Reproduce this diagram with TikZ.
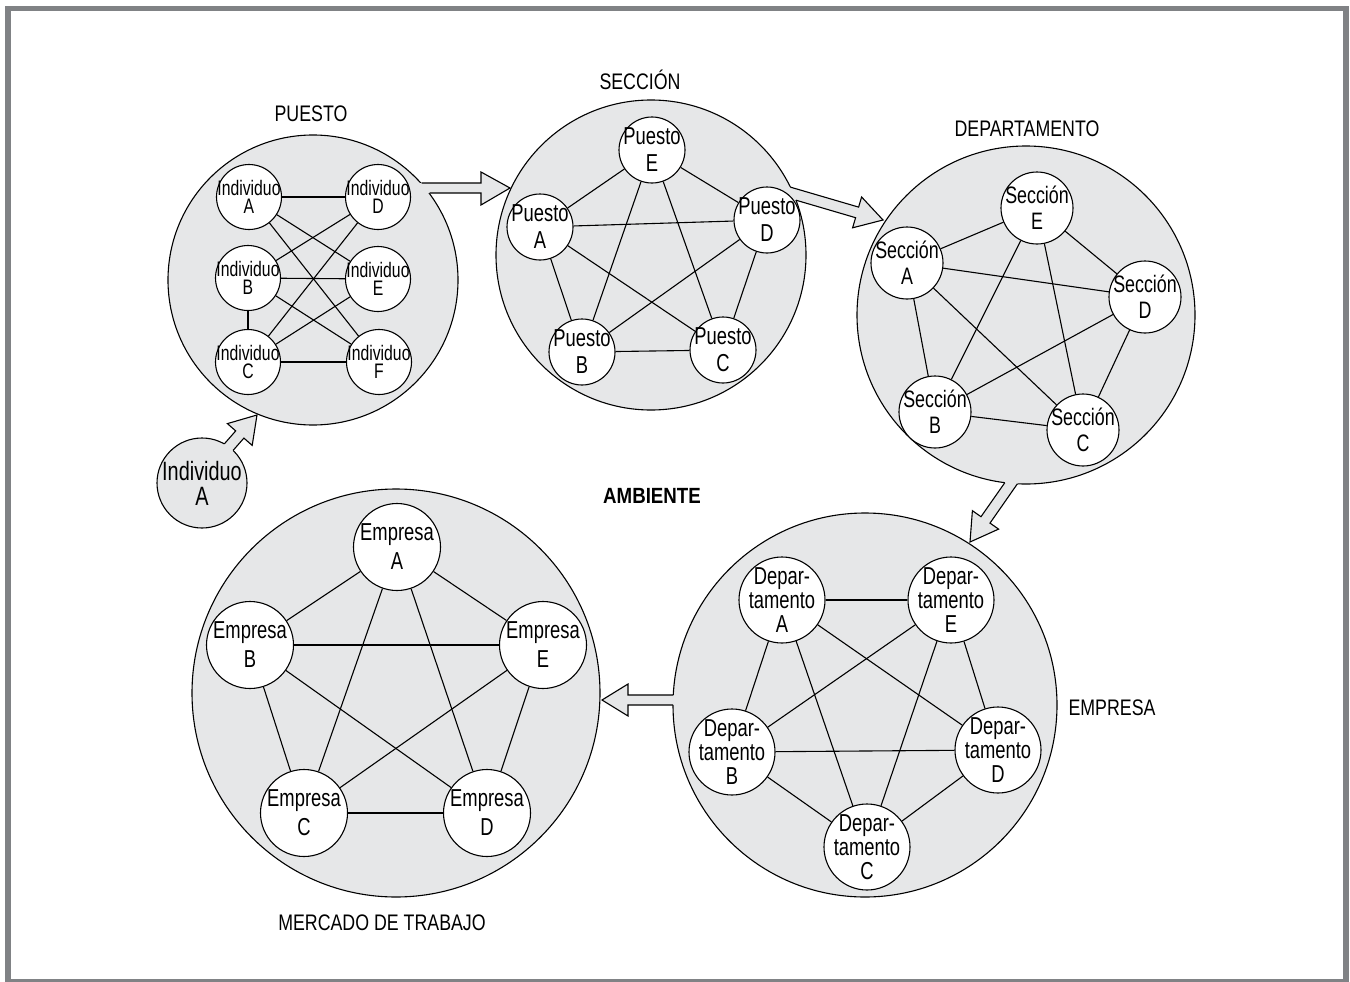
\documentclass[tikz,border=0pt]{standalone}
\usepackage{fontspec}
\setmainfont{Liberation Sans}[FakeStretch=0.75]
\newfontfamily\ambfont{Liberation Sans}[FakeStretch=0.85]
\newfontfamily\lblfont{Liberation Sans}[FakeStretch=0.79]
\definecolor{fillg}{HTML}{E6E7E8}
\definecolor{frameg}{HTML}{808285}
\tikzset{
 big/.style={circle, draw=black, fill=fillg, line width=1.1pt, inner sep=0pt},
 unit/.style={circle, draw=black, fill=white, line width=1.1pt, inner sep=-14pt, align=center},
 ind/.style={unit, minimum size=65pt, font=\fontsize{21}{18.5}\selectfont},
 pue/.style={unit, minimum size=66pt, font=\fontsize{24.5}{27}\selectfont},
 sec/.style={unit, minimum size=72pt, font=\fontsize{23.8}{26}\selectfont},
 dep/.style={unit, minimum size=86pt, font=\fontsize{24.5}{24}\selectfont},
 emp/.style={unit, minimum size=87pt, font=\fontsize{24.5}{29}\selectfont},
 link/.style={line width=1.1pt},
 blockline/.style={draw=black, line width=1.1pt, line join=miter},
 ttl/.style={font=\lblfont\fontsize{22.5}{24}\selectfont, inner sep=0pt, anchor=base},
}
\begin{document}
\begin{tikzpicture}[x=1pt,y=-1pt]
\useasboundingbox (0,0) rectangle (1350,982);
\draw[frameg, line width=5.5pt] (8,8.5) rectangle (1346,981.5);

% big circles
\node[big, minimum size=290pt] (P) at (313,280) {};
\node[big, minimum size=310pt] (S) at (651,255) {};
\node[big, minimum size=338pt] (D) at (1026,315) {};
\node[big, minimum size=384pt] (E) at (865,705) {};
\node[big, minimum size=408pt] (M) at (396,693) {};
\node[big, minimum size=90pt, align=center, inner sep=-14pt, font=\fontsize{26.5}{25}\selectfont] (indA) at (202,483) {Individuo\\A};

% block arrows
% Individuo A -> Puesto
\fill[fillg] (229.1,454.9) -- (233.1,450.4) -- (243.9,438.1) -- (252.2,445.4) -- (257,415) -- (227.4,423.6) -- (235.7,430.9) -- (224.3,443.9) -- (220.3,448.4) -- cycle;
\draw[blockline] (233.1,450.4) -- (243.9,438.1) -- (252.2,445.4) -- (257,415) -- (227.4,423.6) -- (235.7,430.9) -- (224.3,443.9);
% Puesto -> Seccion
\fill[fillg] (414,183) -- (481,183) -- (481,172) -- (510,188) -- (481,205) -- (481,193) -- (422,193) -- cycle;
\draw[blockline] (421.5,183) -- (481,183) -- (481,172) -- (510,188) -- (481,205) -- (481,193) -- (429.5,193);
% Seccion -> Departamento
\fill[fillg] (784.5,185.4) -- (858.6,207.1) -- (861.6,197.0) -- (883,220) -- (852.6,227.8) -- (855.6,217.7) -- (790.2,198.5) -- cycle;
\draw[blockline] (790.3,187.1) -- (858.6,207.1) -- (861.6,197.0) -- (883,220) -- (852.6,227.8) -- (855.6,217.7) -- (796.0,200.2);
% Departamento -> Empresa
\fill[fillg] (1008.2,477.8) -- (981.0,516.7) -- (972.4,510.7) -- (970,542) -- (998.6,529.1) -- (990.0,523.1) -- (1020.8,478.9) -- cycle;
\draw[blockline] (1004.8,482.7) -- (981.0,516.7) -- (972.4,510.7) -- (970,542) -- (998.6,529.1) -- (990.0,523.1) -- (1017.4,483.8);
% Empresa -> Mercado
\fill[fillg] (680,695) -- (628,695) -- (628,684) -- (602,700) -- (628,716) -- (628,705) -- (680,705) -- cycle;
\draw[blockline] (673.3,695) -- (628,695) -- (628,684) -- (602,700) -- (628,716) -- (628,705) -- (673,705);

% PUESTO cluster
\node[ind] (iA) at (249,197) {Individuo\\A};
\node[ind] (iD) at (378,197) {Individuo\\D};
\node[ind] (iB) at (248,278) {Individuo\\B};
\node[ind] (iE) at (378,279) {Individuo\\E};
\node[ind] (iC) at (248,362) {Individuo\\C};
\node[ind] (iF) at (379,362) {Individuo\\F};
\foreach \a/\b in {iA/iD,iA/iE,iA/iF,iB/iD,iB/iE,iB/iF,iC/iD,iC/iE,iC/iF,iB/iC}
  \draw[link] (\a) -- (\b);

% SECCION cluster
\node[pue] (sE) at (652,150) {Puesto\\E};
\node[pue] (sA) at (540,227) {Puesto\\A};
\node[pue] (sD) at (767,220) {Puesto\\D};
\node[pue] (sB) at (582,352) {Puesto\\B};
\node[pue] (sC) at (723,350) {Puesto\\C};
\foreach \a/\b in {sE/sA,sE/sD,sE/sB,sE/sC,sA/sD,sA/sB,sA/sC,sD/sB,sD/sC,sB/sC}
  \draw[link] (\a) -- (\b);

% DEPARTAMENTO cluster
\node[sec] (dE) at (1037,208) {Sección\\E};
\node[sec] (dA) at (907,263) {Sección\\A};
\node[sec] (dD) at (1145,297) {Sección\\D};
\node[sec] (dB) at (935,412) {Sección\\B};
\node[sec] (dC) at (1083,430) {Sección\\C};
\foreach \a/\b in {dE/dA,dE/dD,dE/dB,dE/dC,dA/dD,dA/dB,dA/dC,dD/dB,dD/dC,dB/dC}
  \draw[link] (\a) -- (\b);

% EMPRESA cluster
\node[dep] (eA) at (782,600) {Depar-\\tamento\\A};
\node[dep] (eE) at (951,600) {Depar-\\tamento\\E};
\node[dep] (eB) at (732,752) {Depar-\\tamento\\B};
\node[dep] (eD) at (998,750) {Depar-\\tamento\\D};
\node[dep] (eC) at (867,847) {Depar-\\tamento\\C};
\foreach \a/\b in {eA/eE,eA/eB,eA/eC,eA/eD,eE/eB,eE/eC,eE/eD,eB/eD,eB/eC,eD/eC}
  \draw[link] (\a) -- (\b);

% MERCADO cluster
\node[emp] (mA) at (397,547) {Empresa\\A};
\node[emp] (mB) at (250,645) {Empresa\\B};
\node[emp] (mE) at (543,645) {Empresa\\E};
\node[emp] (mC) at (304,813) {Empresa\\C};
\node[emp] (mD) at (487,813) {Empresa\\D};
\foreach \a/\b in {mA/mB,mA/mE,mA/mC,mA/mD,mB/mE,mB/mC,mB/mD,mE/mC,mE/mD,mC/mD}
  \draw[link] (\a) -- (\b);

% titles
\node[ttl] (lp) at (311,121.7) {PUESTO};
\node[ttl] (ls) at (640,90) {SECCIÓN};
\node[ttl] (ld) at (1027,136.7) {DEPARTAMENTO};
\node[ttl] (le) at (1112,715) {EMPRESA};
\node[ttl] (lm) at (382,930) {MERCADO DE TRABAJO};
\node[inner sep=0pt, anchor=base, font=\ambfont\bfseries\fontsize{22}{24}\selectfont] (amb) at (652,503) {AMBIENTE};
\end{tikzpicture}
\end{document}
